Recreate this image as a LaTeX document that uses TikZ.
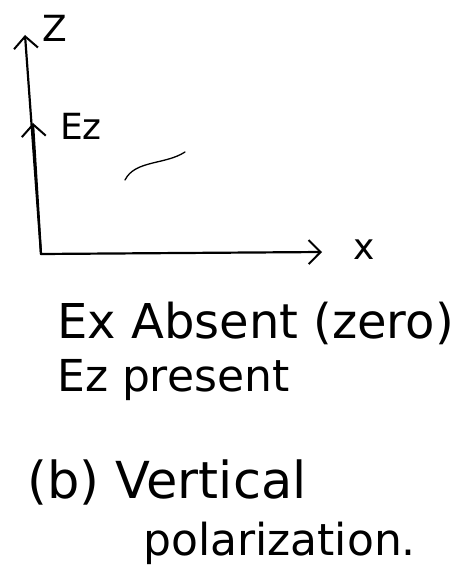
\documentclass[tikz,border=0pt]{standalone}
\usepackage{fontspec}
\setmainfont{DejaVu Sans}
\usetikzlibrary{arrows.meta, positioning}
\tikzset{
  axisline/.style={line width=2.2pt, line cap=round, -{Straight Barb[length=12pt, width=24pt, line width=2pt]}},
  axlabel/.style={inner sep=0pt, font=\fontsize{36}{40}\selectfont},
  note/.style={anchor=west, inner sep=0pt, font=\fontsize{#1}{52}\selectfont},
  note/.default=44,
}

\begin{document}
\begin{tikzpicture}[x=1pt, y=-1pt]
\useasboundingbox (0,0) rectangle (467,569);
\coordinate (origin) at (41,254);
\coordinate (ztip) at (25,35);
\coordinate (xtip) at (322,252);
\coordinate (eztip) at (33,123);
\node[axlabel] (zlab) at (55,28) {Z};
\node[axlabel] (xlab) at (364,250) {x};
\node[axlabel, anchor=west] (ezlab) at (60,126) {Ez};
\draw[axisline] (origin) -- (ztip);
\draw[axisline] (origin) -- (xtip);
\draw[axisline] (origin) -- (eztip);
% stray pen stroke
\draw[line width=1.3pt, line cap=round] (125,180) .. controls (135,160) and (165,165) .. (185,152);
\node[note=48] (exnote) at (57,323) {Ex Absent (zero)};
\node[note=44] (eznote) at (57,380) {Ez present};
\node[note=51] (bnote) at (27,482) {(b) Vertical};
\node[note=44] (polnote) at (143,543) {polarization.};
\end{tikzpicture}
\end{document}
